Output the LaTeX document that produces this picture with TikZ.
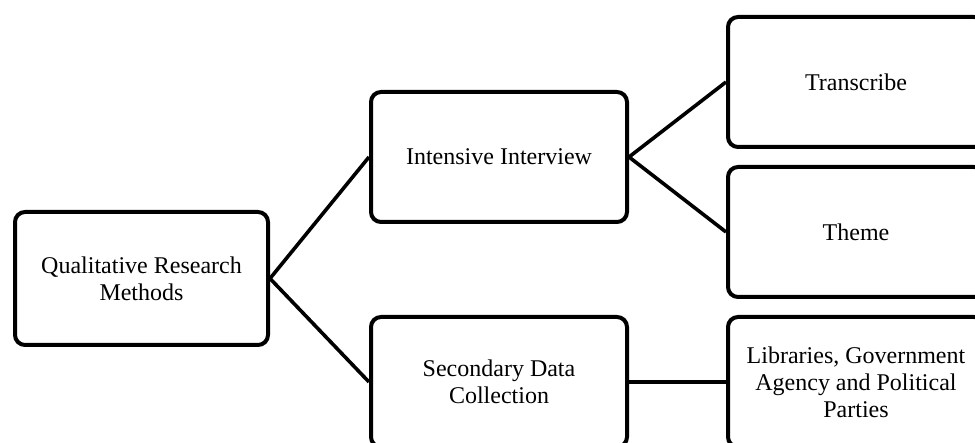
\documentclass[tikz,border=0pt]{standalone}
\usepackage{fontspec}
\setmainfont{Liberation Serif}
\begin{document}
\begin{tikzpicture}[x=0.5pt,y=-0.5pt,
  box/.style={draw=black, line width=2pt, rounded corners=5pt, fill=white,
    minimum width=128pt, minimum height=65pt, align=center, inner sep=0pt,
    font=\fontsize{12}{13.5}\selectfont},
  link/.style={draw=black, line width=1.8pt}]
\useasboundingbox (0,0) rectangle (975,443);
\clip (0,0) rectangle (975,443);
\node[box, minimum width=126.5pt, minimum height=66.5pt] (q) at (141.5,278.5) {Qualitative Research\\Methods};
\node[box] (ii) at (499,157) {Intensive Interview};
\node[box] (sdc) at (499,382) {Secondary Data\\Collection};
\node[box] (tr) at (856,82) {Transcribe};
\node[box] (th) at (856,232) {Theme};
\node[box] (lib) at (856,382) {Libraries, Government\\Agency and Political\\Parties};
\draw[link] (q.east) -- (ii.west);
\draw[link] (q.east) -- (sdc.west);
\draw[link] (ii.east) -- (tr.west);
\draw[link] (ii.east) -- (th.west);
\draw[link] (sdc.east) -- (lib.west);
\end{tikzpicture}
\end{document}
